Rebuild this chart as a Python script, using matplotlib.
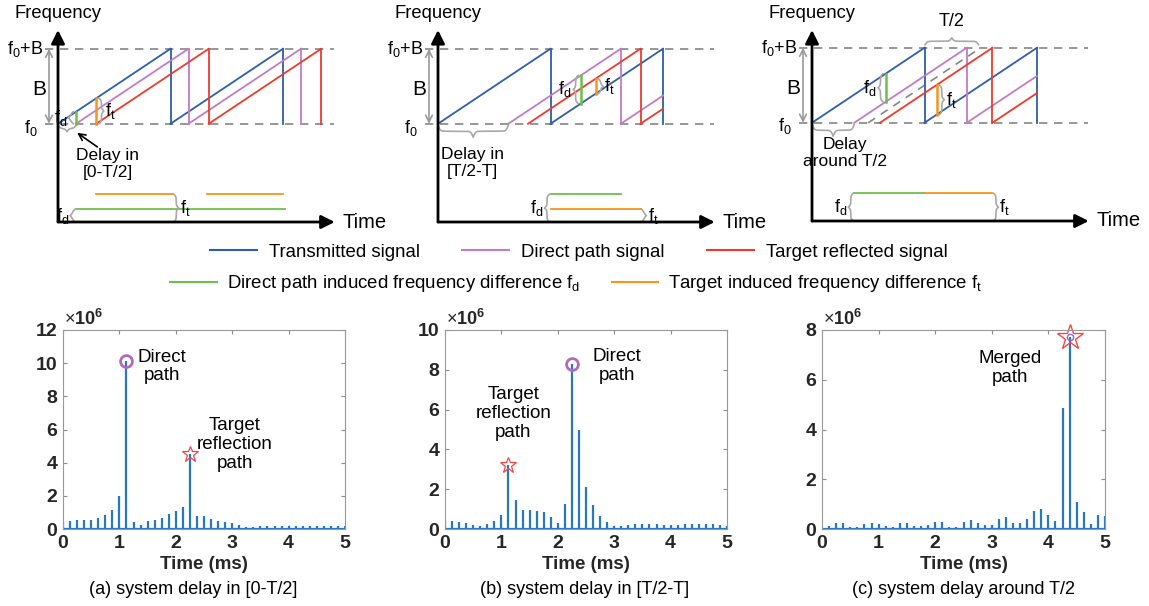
import numpy as np
import matplotlib
matplotlib.use('Agg')
import matplotlib.pyplot as plt
from matplotlib.lines import Line2D

plt.rcParams['font.family'] = ['Liberation Sans', 'DejaVu Sans']
plt.rcParams['mathtext.fontset'] = 'custom'
plt.rcParams['mathtext.rm'] = 'Liberation Sans'
plt.rcParams['mathtext.it'] = 'Liberation Sans:italic'
plt.rcParams['mathtext.bf'] = 'Liberation Sans:bold'

W, H = 1149, 606

# ---- top sketches: time in units of the chirp period T, frequency in units of B ----
panel_origin_px = [(58, 222), (438, 222), (812, 221)]
direct_delay = [0.16, 0.625, 0.376]
target_delay = [0.34, 0.80, 0.604]
chirp_end = [None, 2.0, 2.0]
fd_mark_t = [0.16, 1.27, 0.655]
ft_mark_t = [0.34, 1.40, 1.108]
fd_beat = [[(0.16, 2.02)], [(1.0, 1.625)], [(0.376, 1.0)]]
ft_beat = [[(0.34, 1.02), (1.32, 2.0)], [(1.0, 1.8)], [(1.0, 1.604)]]
fd_level = [0.17, 0.37, 0.37]
ft_level = [0.37, 0.17, 0.37]
delay_labels = ['Delay in\n[0-T/2]', 'Delay in\n[T/2-T]', 'Delay\naround T/2']

# ---- bottom: beat spectrum magnitude (x 10^6) ----
delay_ms = np.linspace(0, 5, 41)
fft_a = [0.44, 0.48, 0.54, 0.54, 0.56, 0.64, 0.84, 1.17, 1.99, 10.15,
         0.42, 0.26, 0.46, 0.54, 0.68, 0.9, 1.09, 1.31, 4.5, 0.8,
         0.78, 0.62, 0.48, 0.42, 0.36, 0.24, 0.14, 0.1, 0.18, 0.18,
         0.2, 0.2, 0.18, 0.2, 0.2, 0.18, 0.2, 0.2, 0.18, 0.18, 0.2]
fft_b = [0.38, 0.38, 0.35, 0.3, 0.2, 0.17, 0.25, 0.42, 0.7, 3.2,
         1.44, 0.97, 0.94, 0.92, 0.84, 0.59, 0.3, 1.24, 8.3, 4.99,
         2.11, 1.2, 0.67, 0.35, 0.13, 0.17, 0.22, 0.27, 0.27, 0.25,
         0.23, 0.22, 0.2, 0.22, 0.25, 0.27, 0.27, 0.25, 0.23, 0.2, 0.17]
fft_c = [0.03, 0.13, 0.23, 0.23, 0.08, 0.08, 0.19, 0.23, 0.2, 0.12,
         0.08, 0.24, 0.25, 0.13, 0.13, 0.16, 0.27, 0.27, 0.1, 0.09,
         0.27, 0.35, 0.24, 0.16, 0.15, 0.4, 0.48, 0.24, 0.23, 0.39,
         0.74, 0.82, 0.55, 0.31, 4.87, 7.7, 1.07, 0.67, 0.21, 0.56, 0.51]
spectra = [fft_a, fft_b, fft_c]
y_max = [12, 10, 8]
direct_idx = [9, 18, 35]
target_idx = [18, 9, 35]
captions = ['(a) system delay in [0-T/2]', '(b) system delay in [T/2-T]',
            '(c) system delay around T/2']

BLUE, PURPLE, RED = '#2F5DA8', '#C27BC6', '#EE3A2C'
GREEN, ORANGE = '#6CC04A', '#F7941E'
GRAY, BRACE = '#858585', '#A8A8A8'
STEM = '#2878BD'

TPX, BPX = 112.5, 75.0   # pixels per T and per B
F0 = 1.31                # f0 height above the time axis (in B)

FD = r'$\mathrm{f}_\mathrm{d}$'
FT = r'$\mathrm{f}_\mathrm{t}$'
FS = 13

fig = plt.figure(figsize=(W / 100, H / 100), dpi=100)


def freq_at(t, delay):
    return F0 + ((t - delay) % 1.0)


def sawtooth(ax, delay, t_end, color):
    for k in range(3):
        t0 = delay + k
        if t_end is None and k == 2:
            break
        if t_end is not None and t0 >= t_end - 1e-9:
            break
        t1 = t0 + 1 if t_end is None else min(t0 + 1, t_end)
        ax.plot([t0, t1], [F0, F0 + (t1 - t0)], color=color, lw=1.3)
        if t_end is None or t0 + 1 <= t_end + 1e-9:
            ax.plot([t1, t1], [F0 + 1, F0], color=color, lw=1.3)


def brace(ax, a, b, pos, depth, vertical=False):
    scale = BPX if vertical else TPX
    u = np.linspace(a, b, 201)
    half = u[:101]
    k = 0.9 * scale
    f = 1 / (1 + np.exp(-k * (half - half[0]))) + 1 / (1 + np.exp(-k * (half - half[-1])))
    f = np.concatenate((f, f[-2::-1])) - 0.5
    w = pos + depth * f
    if vertical:
        ax.plot(w, u, color=BRACE, lw=1.2)
    else:
        ax.plot(u, w, color=BRACE, lw=1.2)


for i, (ox, oy) in enumerate(panel_origin_px):
    L, R = ox - 60, ox + 330
    ax = fig.add_axes([L / W, 1 - 240 / H, (R - L) / W, 240 / H])
    ax.set_xlim(-60 / TPX, 330 / TPX)
    ax.set_ylim((oy - 240) / BPX, oy / BPX)
    ax.axis('off')

    # axes arrows
    ax.annotate('', xy=(0, (oy - 30) / BPX), xytext=(0, 0),
                arrowprops=dict(arrowstyle='-|>', color='k', lw=2, mutation_scale=20,
                                shrinkA=0, shrinkB=0))
    ax.annotate('', xy=(2.46, 0), xytext=(0, 0),
                arrowprops=dict(arrowstyle='-|>', color='k', lw=2, mutation_scale=20,
                                shrinkA=0, shrinkB=0))
    ax.text(0, (oy - 14) / BPX, 'Frequency', ha='center', va='center', fontsize=FS + 0.2)
    ax.text(2.53, 0, 'Time', ha='left', va='center', fontsize=FS + 1.5)

    # f0 and f0+B levels
    for lvl in (F0, F0 + 1):
        ax.plot([-0.115, 2.45], [lvl, lvl], color=GRAY, lw=1.2, ls=(0, (5, 4)), zorder=1)
    ax.text(-0.13, F0 + 1, r'$\mathrm{f}_0$+B', ha='right', va='center', fontsize=FS)
    ax.text(-0.18, F0 - 0.05, r'$\mathrm{f}_0$', ha='right', va='center', fontsize=FS)
    ax.annotate('', xy=(-0.08, F0 + 1), xytext=(-0.08, F0),
                arrowprops=dict(arrowstyle='<->', color='#999999', lw=1.2, mutation_scale=12,
                                shrinkA=0, shrinkB=0))
    ax.text(-0.17, F0 + 0.46, 'B', ha='center', va='center', fontsize=FS + 2)

    # chirps
    if i == 2:
        ax.plot([0.5, 1.48], [F0, F0 + 0.98], color=GRAY, lw=1.2, ls=(0, (5, 4)))
    sawtooth(ax, 0.0, chirp_end[i], BLUE)
    sawtooth(ax, direct_delay[i], chirp_end[i], PURPLE)
    sawtooth(ax, target_delay[i], chirp_end[i], RED)

    # frequency differences on the chirps
    tg = fd_mark_t[i]
    g0, g1 = sorted([freq_at(tg, 0.0), freq_at(tg, direct_delay[i])])
    ax.plot([tg, tg], [g0, g1], color=GREEN, lw=1.8, zorder=4)
    brace(ax, g0, g1, tg - 2.7 / TPX, -5 / TPX, vertical=True)
    ax.text(tg - 9 / TPX, (g0 + g1) / 2, FD, ha='right', va='center', fontsize=FS)
    to = ft_mark_t[i]
    o0, o1 = sorted([freq_at(to, 0.0), freq_at(to, target_delay[i])])
    ax.plot([to, to], [o0, o1], color=ORANGE, lw=1.8, zorder=4)
    brace(ax, o0, o1, to + 2.7 / TPX, 5 / TPX, vertical=True)
    ax.text(to + 9 / TPX, (o0 + o1) / 2, FT, ha='left', va='center', fontsize=FS)

    # delay brace under f0
    dpx = direct_delay[i] * TPX
    brace(ax, 0, direct_delay[i], F0 - 1.5 / BPX, -min(12, 0.3 * dpx + 1) / BPX)

    # beat frequencies over time
    for a, b in fd_beat[i]:
        ax.plot([a, b], [fd_level[i]] * 2, color=GREEN, lw=1.3)
    for a, b in ft_beat[i]:
        ax.plot([a, b], [ft_level[i]] * 2, color=ORANGE, lw=1.3)
    xa = fd_beat[i][0][0]
    brace(ax, 0, fd_level[i], xa - 1 / TPX, -5 / TPX, vertical=True)
    ax.text(xa - 7 / TPX, fd_level[i] / 2, FD, ha='right', va='center', fontsize=FS)
    xb = ft_beat[i][0][1]
    brace(ax, 0, ft_level[i], xb + 1 / TPX, 5 / TPX, vertical=True)
    ax.text(xb + 7 / TPX, ft_level[i] / 2, FT, ha='left', va='center', fontsize=FS)

# delay annotations
fig.axes[0].text(0.44, 0.77, delay_labels[0], ha='center', va='center', fontsize=FS - 0.5)
fig.axes[0].annotate('', xy=(0.15, F0 - 0.1), xytext=(0.37, F0 - 0.33),
                     arrowprops=dict(arrowstyle='->', color='k', lw=1.2, mutation_scale=12))
fig.axes[1].text(0.31, 0.79, delay_labels[1], ha='center', va='center', fontsize=FS - 0.5)
fig.axes[2].text(0.29, 0.907, delay_labels[2], ha='center', va='center', fontsize=FS - 0.5)
# T/2 brace in panel (c)
ax3 = fig.axes[2]
brace(ax3, 1.005, 1.48, F0 + 1 + 3 / BPX, 7 / BPX)
ax3.text(1.24, F0 + 1 + 26 / BPX, 'T/2', ha='center', va='center', fontsize=FS)

# legend
LFS = 13.4
leg1 = [Line2D([], [], color=c, lw=1.5) for c in (BLUE, PURPLE, RED)]
fig.legend(leg1, ['Transmitted signal', 'Direct path signal', 'Target reflected signal'],
           loc='center left', bbox_to_anchor=(210 / W, 1 - 252 / H), ncol=3, frameon=False,
           fontsize=LFS, handlelength=2.5, handletextpad=0.65, columnspacing=2.3, borderpad=0,
           borderaxespad=0)
leg2 = [Line2D([], [], color=c, lw=1.5) for c in (GREEN, ORANGE)]
fig.legend(leg2, ['Direct path induced frequency difference ' + FD,
                  'Target induced frequency difference ' + FT],
           loc='center left', bbox_to_anchor=(170 / W, 1 - 284 / H), ncol=2, frameon=False,
           fontsize=LFS, handlelength=2.5, handletextpad=0.55, columnspacing=1.7, borderpad=0,
           borderaxespad=0)

# ---- bottom spectra ----
bottom_px = [(63, 345), (445, 727), (822, 1105)]
caption_x = [193, 585, 963]
notes = [[('Direct\npath', 1.75, 9.8), ('Target\nreflection\npath', 3.05, 5.07)],
         [('Target\nreflection\npath', 1.21, 5.8), ('Direct\npath', 3.05, 8.2)],
         [('Merged\npath', 3.32, 6.46)]]

for i, (l, r) in enumerate(bottom_px):
    ax = fig.add_axes([l / W, 1 - 529 / H, (r - l) / W, 199 / H])
    vals = np.array(spectra[i])
    ml, sl, bl = ax.stem(delay_ms, vals, linefmt='-', markerfmt=' ', basefmt='-')
    plt.setp(sl, color=STEM, lw=1.6)
    plt.setp(bl, color=STEM, lw=1.6)
    ax.set_xlim(0, 5)
    ax.set_ylim(0, y_max[i])
    ax.set_xticks(range(6))
    ax.set_yticks(range(0, y_max[i] + 1, 2))
    ax.tick_params(direction='in', length=3, top=True, right=True, color='0.55', width=0.8,
                   labelsize=FS + 1, pad=4)
    for lab in ax.get_xticklabels() + ax.get_yticklabels():
        lab.set_fontweight('bold')
        lab.set_color('0.15')
    for s in ax.spines.values():
        s.set_color('0.6')
        s.set_linewidth(0.8)
    ax.set_xlabel('Time (ms)', fontsize=FS + 0.5, fontweight='bold', color='0.15', labelpad=3)
    ax.text(0.005, 1.005, r'$\times\mathbf{10}^{\mathbf{6}}$', transform=ax.transAxes,
            ha='left', va='bottom', fontsize=FS, color='0.15')
    di, ti = direct_idx[i], target_idx[i]
    if i < 2:
        ax.plot(delay_ms[di], vals[di], 'o', ms=8.5, mfc='none', mec='#B46AB8', mew=2,
                clip_on=False)
        ax.plot(delay_ms[ti], vals[ti], '*', ms=12, mfc='none', mec='#F04848', mew=0.9,
                clip_on=False)
    else:
        ax.plot(delay_ms[ti], vals[ti], '*', ms=19, mfc='none', mec='#F04848', mew=1.0,
                clip_on=False)
        ax.plot(delay_ms[di], vals[di], 'o', ms=4.5, mfc='none', mec='#8A6AC8', mew=1.0,
                clip_on=False)
    for txt, x, y in notes[i]:
        ax.text(x, y, txt, ha='center', va='center', fontsize=FS + 0.5, linespacing=1.15)
    fig.text(caption_x[i] / W, 1 - 590 / H, captions[i], ha='center', va='center',
             fontsize=FS)

fig.savefig('out.png', dpi=100)
